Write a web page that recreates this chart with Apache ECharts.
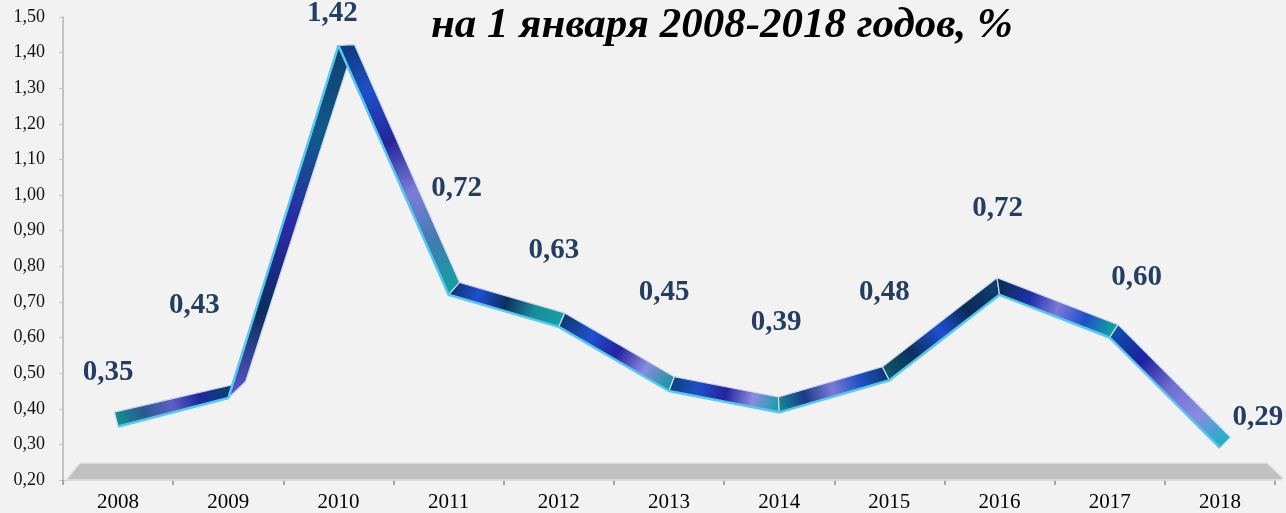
<!DOCTYPE html>
<html>
<head>
<meta charset="utf-8">
<script src="https://cdn.jsdelivr.net/npm/echarts@6/dist/echarts.min.js"></script>
<style>
  html, body { margin: 0; padding: 0; background: #f2f2f2; }
  #chart { width: 1286px; height: 513px; }
</style>
</head>
<body>
<div id="chart"></div>
<script>
const years = ['2008', '2009', '2010', '2011', '2012', '2013', '2014', '2015', '2016', '2017', '2018']
const values = [0.35, 0.43, 1.42, 0.72, 0.63, 0.45, 0.39, 0.48, 0.72, 0.60, 0.29]

// label placement (styling only)
const labelOffsets = [[-10, -39], [-34, -77], [-6, -16], [8, -91], [-5, -61], [-5, -83], [-3, -74], [-5, -72], [-2, -71], [27, -45], [38, -15]]

// ribbon colours per segment
const palettes = [
  ['#149090', '#2a5a90', '#5e5ec8', '#1c2a9c', '#0c3c78'],
  ['#5a5ad0', '#0b2d5e', '#2a2aa8', '#0f5a8a', '#104070'],
  ['#0c3a78', '#1e50c8', '#25259a', '#7c7cd8', '#3e7db0', '#12a0a0'],
  ['#0d3070', '#1f4fd0', '#0b3060', '#1a8a9a', '#14a0a8'],
  ['#0d3a70', '#1f50d0', '#24249e', '#8a8ae0', '#139a9e'],
  ['#0c3f80', '#1f4fc8', '#24249e', '#8c8ce0', '#10a0a4'],
  ['#128e92', '#1c3a8a', '#7a7ad8', '#1e50c8', '#0c3a70'],
  ['#0d5a6a', '#0b2f5e', '#1f4fd0', '#0b2a58', '#0d3f6e'],
  ['#0c2f5e', '#2030a8', '#7a7ad8', '#1e50c8', '#13a0a4'],
  ['#0c4fa8', '#2020a0', '#6e6ed0', '#8a8ae0', '#18b4c4']
]

// offset of the ribbon's top face at every vertex (mitered)
function faceOffsets (pts, w) {
  const normals = []
  for (let i = 0; i < pts.length - 1; i++) {
    const dx = pts[i + 1][0] - pts[i][0]
    const dy = pts[i + 1][1] - pts[i][1]
    const len = Math.hypot(dx, dy)
    let nx = dy / len, ny = -dx / len
    if (nx - ny < 0) { nx = -nx; ny = -ny }
    normals.push([nx, ny])
  }
  return pts.map((p, k) => {
    if (k === 0) return [normals[0][0] * w, normals[0][1] * w]
    if (k === pts.length - 1) return [normals[k - 1][0] * w, normals[k - 1][1] * w]
    const n1 = normals[k - 1], n2 = normals[k]
    let mx = n1[0] + n2[0], my = n1[1] + n2[1]
    const ml = Math.hypot(mx, my)
    mx /= ml; my /= ml
    const cos = mx * n1[0] + my * n1[1]
    const l = Math.min(w / cos, 1.6 * w)
    return [mx * l, my * l]
  })
}

const chart = echarts.init(document.getElementById('chart'))

chart.setOption({
  backgroundColor: '#f2f2f2',
  animation: false,
  title: {
    text: 'на 1 января 2008-2018 годов, %',
    left: 426,
    top: -1,
    textStyle: {
      fontFamily: 'Liberation Serif',
      fontStyle: 'italic',
      fontWeight: 'bold',
      fontSize: 43,
      color: '#000'
    }
  },
  grid: { left: 63, right: 11, top: 17, bottom: 32 },
  graphic: [
    {
      type: 'polygon',
      z: 1,
      shape: { points: [[66, 480], [80, 463], [1267, 463], [1283, 478], [1281, 480]] },
      style: { fill: '#c0c0c0', stroke: '#e2e2e2', lineWidth: 1.5 }
    }
  ],
  xAxis: {
    type: 'category',
    data: years,
    boundaryGap: true,
    axisLine: { show: true, lineStyle: { color: '#bfbfbf', width: 1 } },
    axisTick: { show: true, interval: 0, length: 5, lineStyle: { color: '#a6a6a6', width: 2 } },
    axisLabel: { margin: 12, fontFamily: 'Liberation Serif', fontSize: 21, color: '#000' }
  },
  yAxis: {
    type: 'value',
    min: 0.2,
    max: 1.5,
    interval: 0.1,
    splitLine: { show: false },
    axisLine: { show: true, lineStyle: { color: '#c4c4c4', width: 2 } },
    axisTick: { show: true, length: 4, lineStyle: { color: '#c4c4c4' } },
    axisLabel: {
      margin: 18,
      fontFamily: 'Liberation Serif',
      fontSize: 18,
      color: '#111',
      formatter: v => v.toFixed(2).replace('.', ',')
    }
  },
  series: [
    {
      type: 'custom',
      z: 3,
      data: values.map((v, i) => [i, v]),
      encode: { x: 0, y: 1 },
      renderItem: function (params, api) {
        const i = params.dataIndex
        if (i >= values.length - 1) return null
        const pts = values.map((v, k) => api.coord([k, v]))
        const offs = faceOffsets(pts, 15)
        const a = pts[i], b = pts[i + 1]
        const oa = offs[i], ob = offs[i + 1]
        const pal = palettes[i % palettes.length]
        const stops = pal.map((c, k) => ({ offset: k / (pal.length - 1), color: c }))
        return {
          type: 'polygon',
          shape: { points: [a, b, [b[0] + ob[0], b[1] + ob[1]], [a[0] + oa[0], a[1] + oa[1]]] },
          style: {
            fill: new echarts.graphic.LinearGradient(a[0], a[1], b[0], b[1], stops, true),
            stroke: '#d3d9e6',
            lineWidth: 1.2
          }
        }
      }
    },
    {
      type: 'line',
      z: 5,
      data: values.map((v, i) => ({ value: v, label: { offset: labelOffsets[i] } })),
      symbol: 'circle',
      symbolSize: 2,
      itemStyle: { color: 'rgba(0,0,0,0)' },
      lineStyle: { color: '#55c8f0', width: 2.5 },
      label: {
        show: true,
        position: 'top',
        distance: 0,
        fontFamily: 'Liberation Serif',
        fontWeight: 'bold',
        fontSize: 29,
        color: '#243e62',
        formatter: p => p.value.toFixed(2).replace('.', ',')
      }
    }
  ]
})
</script>
</body>
</html>
